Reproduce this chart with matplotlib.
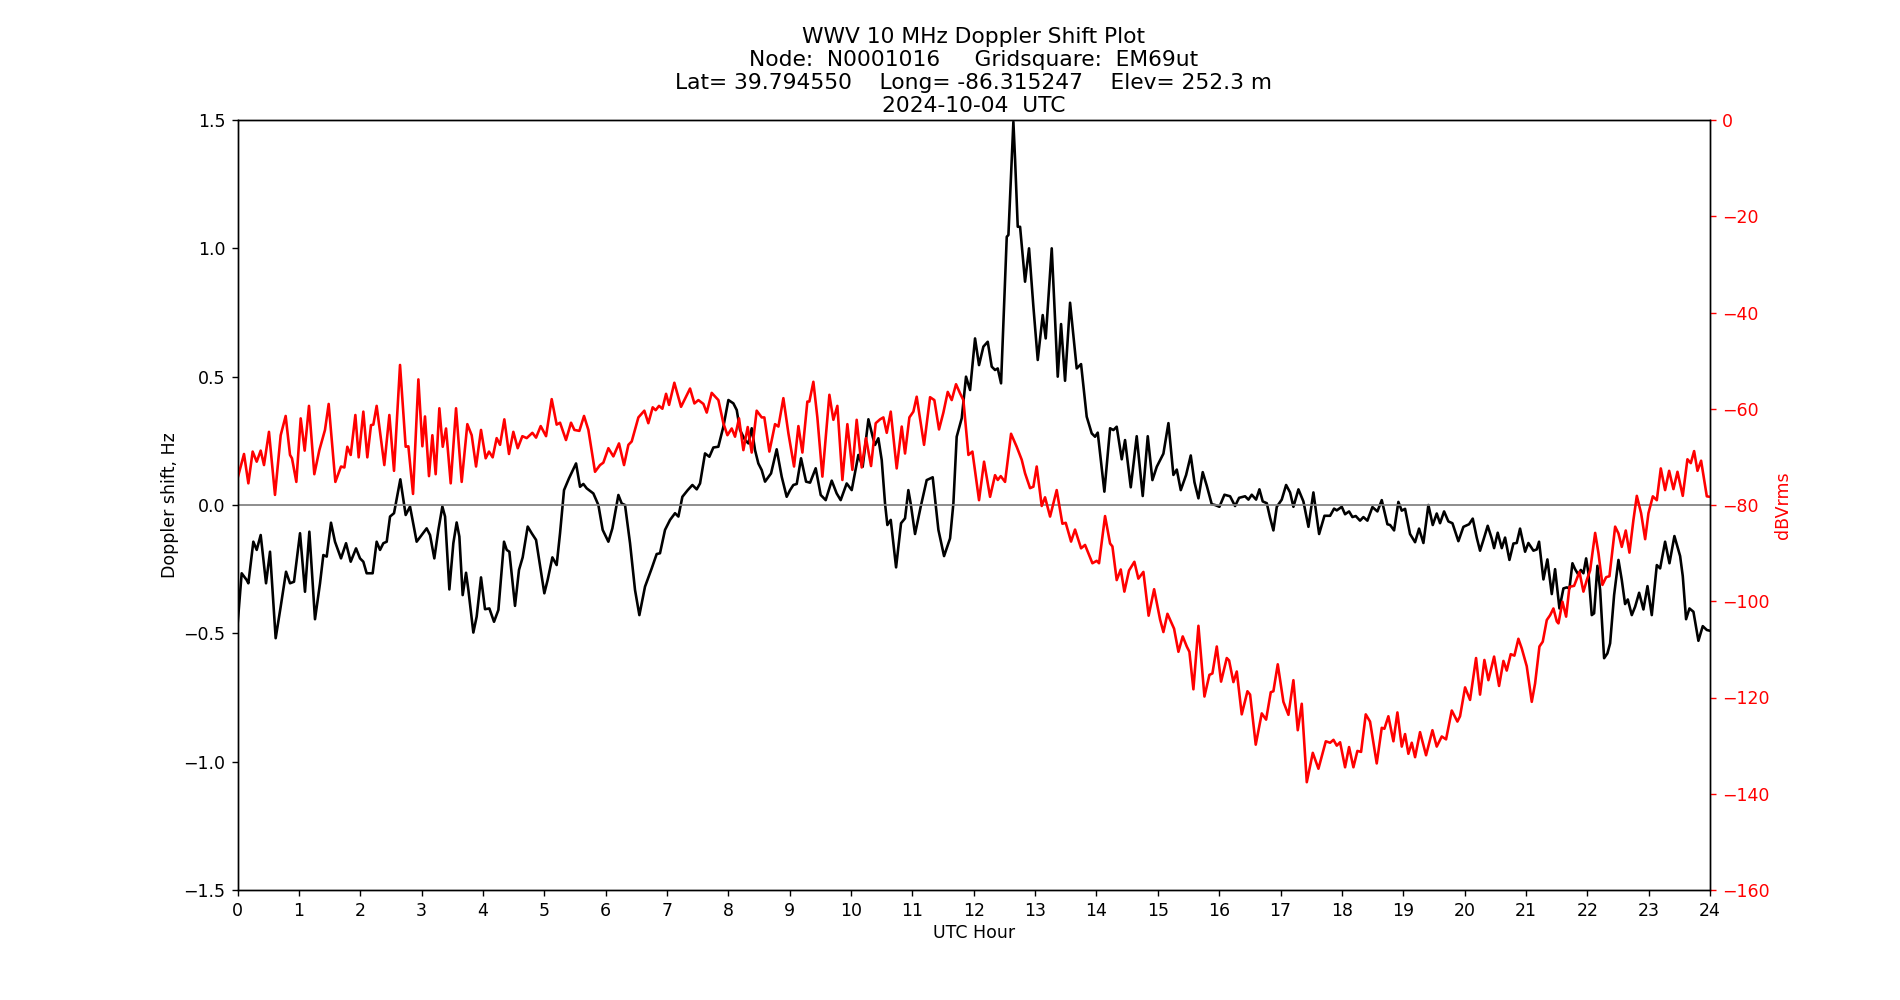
# WWV 10 MHz Doppler shift plot, 2024-10-04
import matplotlib
matplotlib.use('Agg')
import matplotlib.pyplot as plt

# Doppler shift (Hz) vs UTC hour
dop_hour = [0.00, 0.068, 0.149, 0.177, 0.258, 0.313, 0.378, 0.465, 0.530, 0.622, 0.704, 0.791, 0.856, 0.921,
            1.019, 1.100, 1.171, 1.263, 1.345, 1.399, 1.454, 1.524, 1.589, 1.687, 1.769, 1.845, 1.932, 1.997,
            2.051, 2.105, 2.203, 2.268, 2.323, 2.377, 2.432, 2.486, 2.551, 2.654, 2.741, 2.812, 2.920, 3.083,
            3.138, 3.208, 3.274, 3.339, 3.383, 3.453, 3.518, 3.572, 3.616, 3.670, 3.725, 3.763, 3.844, 3.898,
            3.969, 4.034, 4.105, 4.181, 4.252, 4.344, 4.388, 4.431, 4.523, 4.588, 4.648, 4.730, 4.795, 4.866,
            5.001, 5.055, 5.132, 5.202, 5.257, 5.322, 5.403, 5.518, 5.583, 5.637, 5.691, 5.800, 5.882, 5.952,
            6.045, 6.110, 6.208, 6.262, 6.316, 6.398, 6.479, 6.550, 6.642, 6.751, 6.832, 6.886, 6.968,
            7.050, 7.131, 7.186, 7.251, 7.338, 7.414, 7.485, 7.539, 7.620, 7.691, 7.756, 7.837, 7.919,
            8.001, 8.082, 8.137, 8.191, 8.272, 8.327, 8.381, 8.435, 8.489, 8.544, 8.598, 8.696, 8.788, 8.870, 8.951,
            9.006, 9.060, 9.115, 9.185, 9.267, 9.332, 9.424, 9.506, 9.587, 9.685, 9.766, 9.831, 9.929,
            10.011, 10.119, 10.190, 10.283, 10.353, 10.391, 10.445, 10.500, 10.554, 10.592, 10.647, 10.734,
            10.815, 10.880, 10.934, 10.972, 11.043, 11.136, 11.233, 11.331, 11.424, 11.516, 11.614, 11.668,
            11.722, 11.804, 11.874, 11.940, 12.021, 12.086, 12.157, 12.228, 12.293, 12.347, 12.391, 12.445,
            12.538, 12.565, 12.619, 12.646, 12.674, 12.717, 12.755, 12.836, 12.901, 12.972, 13.043, 13.124,
            13.173, 13.271, 13.369, 13.423, 13.488, 13.570, 13.678, 13.749, 13.841, 13.923, 13.977, 14.021,
            14.129, 14.222, 14.276, 14.330, 14.412, 14.466, 14.559, 14.656, 14.754, 14.836, 14.912, 14.983,
            15.091, 15.173, 15.254, 15.309, 15.374, 15.461, 15.537, 15.597, 15.662, 15.732, 15.798, 15.879,
            15.933, 16.004, 16.086, 16.178, 16.259, 16.325, 16.422, 16.477, 16.531, 16.602, 16.656, 16.710,
            16.776, 16.830, 16.884, 16.939, 17.020, 17.091, 17.156, 17.210, 17.292, 17.373, 17.455, 17.536,
            17.629, 17.716, 17.808, 17.873, 17.917, 17.998, 18.052, 18.117, 18.172, 18.226, 18.296, 18.351,
            18.416, 18.498, 18.579, 18.650, 18.742, 18.786, 18.851, 18.921, 18.976, 19.030, 19.111, 19.193,
            19.258, 19.329, 19.410, 19.481, 19.546, 19.600, 19.666, 19.736, 19.802, 19.899, 19.981, 20.073,
            20.133, 20.198, 20.252, 20.307, 20.377, 20.443, 20.481, 20.540, 20.606, 20.660, 20.731, 20.796,
            20.850, 20.904, 20.986, 21.040, 21.122, 21.176, 21.214, 21.285, 21.350, 21.421, 21.475, 21.546,
            21.611, 21.666, 21.709, 21.758, 21.801, 21.856, 21.894, 21.937, 21.981, 22.019, 22.073, 22.111,
            22.165, 22.209, 22.274, 22.328, 22.372, 22.437, 22.508, 22.562, 22.616, 22.660, 22.725, 22.780,
            22.845, 22.915, 22.981, 23.051, 23.133, 23.187, 23.268, 23.339, 23.420, 23.513, 23.556, 23.610,
            23.665, 23.730, 23.811, 23.882, 23.948, 24.0]
dop_hz = [-0.47, -0.266, -0.292, -0.305, -0.143, -0.175, -0.117, -0.305, -0.182, -0.519, -0.396, -0.260, -0.305, -0.299,
          -0.110, -0.338, -0.104, -0.445, -0.305, -0.195, -0.201, -0.069, -0.143, -0.208, -0.149, -0.221, -0.169, -0.208,
          -0.221, -0.266, -0.266, -0.143, -0.175, -0.149, -0.143, -0.045, -0.032, 0.100, -0.039, -0.006, -0.143, -0.091,
          -0.117, -0.208, -0.097, -0.006, -0.045, -0.329, -0.149, -0.068, -0.123, -0.351, -0.264, -0.331, -0.497, -0.435,
          -0.282, -0.406, -0.403, -0.455, -0.409, -0.143, -0.175, -0.182, -0.393, -0.253, -0.204, -0.084, -0.110, -0.136,
          -0.344, -0.292, -0.204, -0.234, -0.110, 0.058, 0.104, 0.162, 0.071, 0.082, 0.065, 0.045, 0.000, -0.097,
          -0.143, -0.091, 0.039, 0.006, 0.000, -0.149, -0.331, -0.429, -0.318, -0.247, -0.191, -0.188, -0.097,
          -0.058, -0.032, -0.045, 0.032, 0.058, 0.078, 0.061, 0.084, 0.201, 0.188, 0.224, 0.227, 0.305,
          0.409, 0.396, 0.370, 0.292, 0.253, 0.240, 0.299, 0.214, 0.162, 0.136, 0.091, 0.123, 0.217, 0.110, 0.032,
          0.058, 0.078, 0.082, 0.182, 0.091, 0.087, 0.143, 0.039, 0.019, 0.095, 0.045, 0.019, 0.084,
          0.058, 0.195, 0.149, 0.334, 0.266, 0.234, 0.260, 0.175, 0.006, -0.078, -0.058, -0.243,
          -0.071, -0.052, 0.058, 0.006, -0.113, -0.006, 0.097, 0.108, -0.097, -0.199, -0.130, 0.006,
          0.266, 0.338, 0.500, 0.448, 0.649, 0.545, 0.617, 0.636, 0.539, 0.526, 0.532, 0.474,
          1.045, 1.052, 1.344, 1.493, 1.344, 1.084, 1.084, 0.870, 1.000, 0.773, 0.565, 0.740,
          0.649, 1.000, 0.500, 0.705, 0.484, 0.788, 0.532, 0.549, 0.344, 0.279, 0.266, 0.282,
          0.052, 0.299, 0.292, 0.305, 0.178, 0.253, 0.069, 0.268, 0.035, 0.268, 0.097, 0.149,
          0.200, 0.319, 0.117, 0.138, 0.058, 0.117, 0.193, 0.089, 0.026, 0.128, 0.075, 0.003,
          0.000, -0.007, 0.040, 0.034, -0.004, 0.028, 0.034, 0.021, 0.040, 0.021, 0.061, 0.014,
          0.007, -0.050, -0.099, -0.007, 0.021, 0.078, 0.049, -0.007, 0.061, 0.014, -0.085, 0.049,
          -0.113, -0.042, -0.042, -0.014, -0.021, -0.007, -0.036, -0.025, -0.047, -0.043, -0.061, -0.047,
          -0.061, -0.008, -0.025, 0.019, -0.075, -0.078, -0.099, 0.012, -0.022, -0.015, -0.113, -0.145,
          -0.092, -0.148, 0.000, -0.078, -0.033, -0.071, -0.025, -0.064, -0.071, -0.141, -0.085, -0.075,
          -0.053, -0.127, -0.178, -0.136, -0.081, -0.131, -0.168, -0.108, -0.168, -0.127, -0.214, -0.150,
          -0.148, -0.092, -0.182, -0.148, -0.178, -0.173, -0.143, -0.290, -0.212, -0.347, -0.250, -0.403,
          -0.325, -0.321, -0.325, -0.227, -0.250, -0.272, -0.253, -0.266, -0.208, -0.266, -0.429, -0.422,
          -0.237, -0.331, -0.597, -0.578, -0.539, -0.351, -0.214, -0.292, -0.386, -0.368, -0.429, -0.396,
          -0.342, -0.407, -0.316, -0.429, -0.234, -0.247, -0.143, -0.227, -0.121, -0.199, -0.277, -0.445,
          -0.403, -0.416, -0.529, -0.472, -0.487, -0.490]

# Received signal level (dBVrms) vs UTC hour
amp_hour = [0.00, 0.106, 0.177, 0.247, 0.313, 0.378, 0.432, 0.513, 0.611, 0.704, 0.785, 0.856, 0.888, 0.959,
            1.030, 1.095, 1.165, 1.252, 1.334, 1.426, 1.486, 1.595, 1.687, 1.742, 1.790, 1.845, 1.921, 1.975,
            2.051, 2.116, 2.176, 2.214, 2.268, 2.393, 2.475, 2.551, 2.649, 2.741, 2.785, 2.861, 2.948,
            3.013, 3.056, 3.121, 3.176, 3.230, 3.290, 3.345, 3.399, 3.475, 3.562, 3.654, 3.746, 3.817, 3.888, 3.969,
            4.045, 4.099, 4.159, 4.224, 4.279, 4.349, 4.425, 4.496, 4.567, 4.643, 4.714, 4.806, 4.866, 4.942,
            5.029, 5.121, 5.202, 5.257, 5.354, 5.436, 5.491, 5.572, 5.648, 5.719, 5.827, 5.909, 5.963,
            6.045, 6.126, 6.218, 6.300, 6.371, 6.425, 6.534, 6.631, 6.696, 6.767, 6.816, 6.870, 6.925, 6.985,
            7.034, 7.120, 7.229, 7.376, 7.447, 7.512, 7.594, 7.648, 7.729, 7.838, 7.919, 7.985,
            8.055, 8.109, 8.174, 8.245, 8.316, 8.381, 8.462, 8.544, 8.587, 8.669, 8.761, 8.816, 8.897, 8.979,
            9.071, 9.142, 9.207, 9.288, 9.321, 9.386, 9.451, 9.533, 9.647, 9.712, 9.777, 9.859, 9.940,
            10.022, 10.092, 10.174, 10.244, 10.326, 10.402, 10.473, 10.527, 10.582, 10.647, 10.744, 10.826,
            10.880, 10.951, 11.016, 11.070, 11.190, 11.288, 11.358, 11.434, 11.505, 11.576, 11.641, 11.711,
            11.777, 11.831, 11.913, 11.978, 12.086, 12.168, 12.266, 12.347, 12.391, 12.440, 12.510, 12.608,
            12.700, 12.782, 12.836, 12.918, 12.972, 13.026, 13.108, 13.162, 13.244, 13.352, 13.445, 13.499,
            13.586, 13.651, 13.749, 13.814, 13.934, 14.004, 14.042, 14.140, 14.222, 14.260, 14.330, 14.396,
            14.455, 14.531, 14.618, 14.683, 14.765, 14.850, 14.940, 15.037, 15.091, 15.157, 15.227, 15.265,
            15.336, 15.406, 15.472, 15.515, 15.580, 15.662, 15.760, 15.841, 15.890, 15.961, 16.031, 16.124,
            16.162, 16.232, 16.287, 16.368, 16.461, 16.504, 16.596, 16.694, 16.765, 16.841, 16.884, 16.955,
            17.047, 17.129, 17.210, 17.281, 17.346, 17.428, 17.526, 17.618, 17.738, 17.808, 17.863, 17.917,
            17.971, 18.052, 18.117, 18.188, 18.253, 18.313, 18.389, 18.459, 18.568, 18.650, 18.693, 18.758,
            18.840, 18.905, 18.976, 19.030, 19.084, 19.139, 19.193, 19.274, 19.372, 19.476, 19.546, 19.628,
            19.698, 19.791, 19.883, 19.926, 20.008, 20.089, 20.187, 20.252, 20.323, 20.388, 20.481, 20.562,
            20.633, 20.687, 20.752, 20.812, 20.877, 20.932, 21.013, 21.095, 21.149, 21.220, 21.274, 21.340,
            21.394, 21.448, 21.503, 21.530, 21.595, 21.655, 21.709, 21.785, 21.872, 21.937, 21.992, 22.046,
            22.128, 22.182, 22.247, 22.307, 22.361, 22.454, 22.508, 22.562, 22.627, 22.687, 22.752, 22.807,
            22.877, 22.943, 22.997, 23.068, 23.133, 23.198, 23.268, 23.334, 23.404, 23.470, 23.556, 23.632,
            23.687, 23.741, 23.796, 23.855, 23.948, 24.0]
amp_db = [-74.5, -69.4, -75.5, -68.9, -71.0, -68.7, -71.7, -64.8, -77.9, -65.5, -61.5, -69.6, -70.3, -75.2,
          -62.0, -68.7, -59.4, -73.6, -68.6, -64.4, -59.0, -75.2, -72.0, -72.2, -67.9, -69.6, -61.3, -70.1,
          -60.6, -70.1, -63.4, -63.3, -59.4, -71.7, -61.3, -72.9, -50.9, -67.9, -67.8, -77.7, -53.9,
          -67.8, -61.6, -74.0, -65.5, -73.6, -59.9, -67.9, -64.1, -75.5, -59.9, -75.2, -63.2, -65.5, -72.0, -64.4,
          -70.3, -68.9, -70.1, -66.1, -67.5, -62.2, -69.4, -64.8, -68.2, -65.7, -66.1, -65.0, -66.0, -63.6,
          -65.7, -58.0, -63.3, -62.9, -66.5, -62.9, -64.4, -64.6, -61.5, -64.4, -73.1, -71.7, -71.2,
          -68.2, -69.9, -67.2, -71.7, -67.5, -66.8, -61.8, -60.4, -63.0, -59.7, -60.3, -59.4, -60.0, -56.9,
          -59.2, -54.6, -59.6, -55.8, -58.9, -58.2, -59.0, -60.8, -56.7, -58.2, -63.0, -65.5,
          -64.1, -65.8, -62.0, -68.6, -63.8, -69.1, -60.4, -61.8, -61.8, -68.9, -63.2, -63.7, -57.8, -65.1,
          -72.0, -63.6, -69.1, -58.5, -58.5, -54.4, -61.8, -74.1, -57.1, -62.3, -59.4, -74.8, -63.2,
          -72.7, -62.3, -72.2, -66.1, -71.9, -63.0, -62.2, -61.8, -65.0, -60.6, -72.4, -63.7,
          -69.3, -61.8, -60.6, -57.5, -67.5, -57.6, -58.2, -64.3, -60.8, -56.5, -58.2, -54.9,
          -56.8, -58.2, -69.6, -68.9, -79.0, -71.0, -78.3, -73.8, -74.8, -74.0, -75.2, -65.2,
          -67.9, -70.6, -73.4, -76.5, -76.2, -72.0, -80.2, -78.4, -82.4, -76.9, -83.9, -83.7,
          -87.6, -85.1, -89.0, -88.3, -92.1, -91.6, -92.1, -82.3, -88.0, -88.6, -95.6, -93.4,
          -98.0, -93.6, -91.8, -95.3, -93.9, -103.0, -97.5, -103.8, -106.4, -102.6, -104.6, -105.7,
          -110.5, -107.3, -109.4, -110.5, -118.3, -105.1, -119.8, -115.3, -115.0, -109.4, -116.7, -111.8,
          -112.3, -116.8, -114.6, -123.5, -118.7, -119.4, -129.8, -123.3, -124.6, -118.9, -118.7, -113.1,
          -120.9, -123.6, -116.4, -126.8, -121.3, -137.6, -131.5, -134.8, -129.1, -129.4, -128.8, -130.0,
          -129.3, -134.5, -130.3, -134.5, -131.1, -131.3, -123.5, -125.0, -133.7, -126.3, -126.5, -123.9,
          -129.1, -123.1, -130.2, -127.6, -131.7, -129.4, -132.4, -127.2, -132.0, -126.8, -130.2, -128.1,
          -128.7, -122.7, -125.0, -123.9, -117.9, -120.5, -111.8, -119.4, -112.2, -116.4, -111.5, -117.6,
          -112.4, -114.4, -111.0, -111.3, -107.8, -109.8, -113.5, -120.9, -117.1, -109.4, -108.4, -103.9,
          -102.9, -101.5, -104.2, -104.6, -100.1, -103.2, -97.0, -96.8, -93.9, -98.0, -95.6, -93.6,
          -85.8, -90.0, -96.6, -95.0, -94.8, -84.5, -85.9, -88.7, -85.3, -89.9, -83.1, -78.1,
          -81.7, -87.1, -81.7, -78.2, -79.0, -72.4, -76.9, -72.9, -76.7, -73.1, -78.1, -70.5,
          -71.3, -68.8, -72.9, -70.8, -78.2, -78.3]

title_lines = ["WWV 10 MHz Doppler Shift Plot",
               "Node:  N0001016     Gridsquare:  EM69ut",
               "Lat= 39.794550    Long= -86.315247    Elev= 252.3 m",
               "2024-10-04  UTC"]

fig, ax = plt.subplots(figsize=(15.2, 8), dpi=125)

ax.plot(dop_hour, dop_hz, color='black')
ax.axhline(0, color='grey', linewidth=1)
ax.set_xlim(0, 24)
ax.set_ylim(-1.5, 1.5)
ax.set_xticks(range(0, 25))
ax.set_xlabel('UTC Hour', labelpad=2.5)
ax.set_ylabel('Doppler shift, Hz', labelpad=2.5)
ax.set_title('\n'.join(title_lines), fontsize=12.5, pad=4.5)

ax2 = ax.twinx()
ax2.plot(amp_hour, amp_db, color='red')
ax2.set_ylim(-160, 0)
ax2.set_ylabel('dBVrms', color='red', labelpad=2.5)
ax2.tick_params(axis='y', colors='red')
ax2.spines['right'].set_color('black')

fig.savefig('out.png')
